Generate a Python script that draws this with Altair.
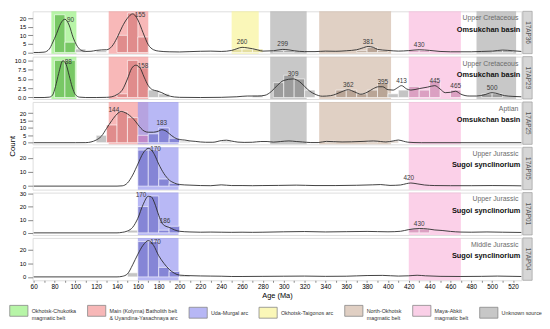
import altair as alt
import pandas as pd

# ---------------- data ----------------
SAMPLES = ["17AP36", "17AP29", "17AP25", "17AP05", "17AP01", "17AP04"]
PERIODS = ["Upper Cretaceous", "Upper Cretaceous", "Aptian", "Upper Jurassic", "Upper Jurassic", "Middle Jurassic"]
BASINS = ["Omsukchan basin", "Omsukchan basin", "Omsukchan basin", "Sugoi synclinorium", "Sugoi synclinorium", "Sugoi synclinorium"]

SOURCES = [
    "Okhotsk-Chukotka|magmatic belt",
    "Main (Kolyma) Batholith belt|& Uyandina-Yasachnaya arc",
    "Uda-Murgal arc",
    "Okhotsk-Taigonos arc",
    "North-Okhotsk|magmatic belt",
    "Maya-Abkit|magmatic belt",
    "Unknown source",
]
SOURCE_COLORS = ["#9af183", "#f59a9a", "#9a9af1", "#f8f49b", "#d3bcab", "#f9bcde", "#b0b0b0"]

BAND_KEYS = ["G", "R", "B", "Y", "N", "M", "U1", "U2"]
BAND_SOURCE = [0, 1, 2, 3, 4, 5, 6, 6]
BAND_START = [77, 132, 160, 250, 334, 420, 287, 485]
BAND_END = [101, 170, 199, 276, 403, 470, 322, 523]

PANEL_BANDS = [
    ["G", "R", "Y", "U1", "N", "M", "U2"],
    ["G", "R", "U1", "N", "M", "U2"],
    ["R", "B", "U1", "N", "M"],
    ["B", "M"],
    ["B", "M"],
    ["B", "M"],
]

BAR_CATS = ["G", "R", "B", "mix", "Y", "N", "M", "U", "none"]
BAR_COLORS = ["#78c865", "#e08c8c", "#8585d6", "#c088c8", "#e4dea0", "#b9a596", "#dba0c2", "#9c9c9c", "#c4c4c4"]

BAR_STARTS = [
    [80, 90, 100, 120, 140, 150, 160, 250, 260, 270, 290, 300, 370, 380, 390, 420, 430, 500, 510],
    [80, 90, 140, 150, 160, 170, 180, 270, 290, 300, 310, 320, 350, 360, 370, 380, 390, 400, 410, 420, 430, 440, 460, 490, 500],
    [120, 130, 140, 150, 160, 170, 180, 190, 200, 240, 340, 380, 400],
    [160, 170, 180, 190],
    [150, 160, 170, 180, 190, 420, 430],
    [150, 160, 170, 180, 190, 200],
]
BAR_COUNTS = [
    [22, 6, 2, 1, 10, 23, 9, 2, 2, 2, 1, 1, 1, 3, 1, 1, 1, 1, 1],
    [10, 10, 1, 10, 8, 2, 1, 0.6, 4, 6, 5, 2, 2, 2, 1, 2, 4, 1, 2, 3, 2, 4.5, 2, 1, 1],
    [5, 12, 21, 17, 5, 6, 10, 3, 1, 1, 1, 1, 1],
    [25.5, 25.5, 5, 2],
    [2, 20, 28, 2, 5, 3, 3],
    [3, 26, 26, 7, 4, 1],
]
BAR_SOURCES = [
    ["G", "G", "none", "none", "R", "R", "R", "Y", "Y", "Y", "U", "U", "N", "N", "N", "M", "M", "U", "U"],
    ["G", "G", "R", "R", "R", "none", "none", "none", "U", "U", "U", "none", "N", "N", "N", "N", "N", "none", "none", "M", "M", "M", "M", "U", "U"],
    ["none", "R", "R", "R", "mix", "B", "B", "B", "none", "none", "N", "N", "N"],
    ["B", "B", "B", "B"],
    ["none", "B", "B", "B", "B", "M", "M"],
    ["none", "B", "B", "B", "B", "none"],
]

CURVE_AGES = [
    [60, 65, 70, 75, 78, 82, 86, 90, 94, 98, 101, 105, 110, 115, 120, 125, 130, 135, 140, 145, 150, 155, 160, 165, 170, 175, 180, 190, 200, 210, 220, 230, 240, 250, 255, 260, 265, 270, 275, 280, 290, 299, 305, 310, 320, 330, 340, 350, 360, 370, 375, 381, 386, 390, 400, 410, 420, 430, 440, 450, 460, 470, 480, 490, 500, 510, 520, 528],
    [60, 70, 75, 78, 81, 84, 88, 91, 94, 97, 100, 104, 110, 120, 130, 135, 140, 145, 150, 154, 158, 162, 166, 170, 174, 178, 183, 188, 195, 200, 220, 240, 255, 265, 275, 282, 288, 294, 300, 309, 315, 320, 325, 330, 337, 345, 350, 356, 362, 368, 374, 380, 386, 391, 395, 400, 405, 409, 413, 418, 422, 430, 438, 445, 450, 455, 460, 465, 470, 478, 485, 492, 500, 507, 512, 520, 528],
    [60, 100, 110, 115, 120, 125, 130, 135, 140, 144, 148, 152, 156, 160, 163, 166, 170, 175, 180, 183, 187, 190, 195, 200, 205, 210, 215, 220, 225, 232, 240, 245, 250, 256, 262, 270, 278, 284, 290, 297, 305, 312, 318, 326, 333, 341, 348, 356, 365, 377, 386, 393, 398, 405, 410, 415, 419, 425, 432, 528],
    [60, 140, 145, 150, 155, 160, 165, 170, 173, 176, 180, 185, 190, 195, 200, 210, 220, 230, 240, 250, 260, 270, 280, 295, 312, 330, 350, 370, 385, 393, 402, 412, 418, 422, 428, 435, 445, 460, 480, 500, 520, 528],
    [60, 140, 145, 150, 155, 160, 165, 170, 173, 176, 180, 183, 186, 190, 195, 200, 210, 220, 230, 240, 250, 260, 270, 280, 300, 320, 340, 360, 380, 400, 412, 420, 430, 438, 445, 452, 460, 470, 480, 495, 510, 528],
    [60, 140, 145, 150, 155, 160, 165, 170, 175, 180, 185, 190, 195, 200, 210, 220, 230, 240, 250, 260, 280, 300, 320, 340, 360, 380, 395, 410, 420, 428, 436, 450, 470, 490, 505, 520, 528],
]
CURVE_VALUES = [
    [0, 0, 0.2, 2, 5.5, 11, 17, 19.4, 16, 8.5, 4.5, 1.5, 0.6, 0.7, 1.2, 1.5, 1.6, 3.5, 8.5, 15, 20, 22.5, 19, 11.5, 4.5, 1.6, 0.8, 0.4, 0.3, 0.5, 0.7, 0.8, 0.6, 1.2, 2.2, 3, 2.7, 2.2, 1.5, 0.8, 1, 1.8, 1.5, 1, 0.5, 0.5, 0.8, 0.7, 1, 1.6, 2.5, 3.5, 3, 1.8, 1.2, 0.8, 1.1, 1.6, 1.2, 0.6, 0.4, 0.4, 0.4, 0.6, 0.8, 1.4, 1, 0.6],
    [0, 0, 0.1, 0.6, 3, 6.5, 9.9, 9, 6, 2.8, 0.8, 0.1, 0, 0, 0.05, 0.2, 0.8, 2, 5, 7.8, 8.7, 8, 5.5, 3.2, 2.1, 1.8, 1.3, 0.6, 0.15, 0.05, 0, 0.05, 0.2, 0.4, 0.4, 0.6, 1.6, 3.3, 4.6, 5, 4.3, 3, 1.7, 0.9, 0.35, 0.5, 0.9, 1.6, 2.1, 1.5, 0.9, 1.4, 2.4, 2.9, 2.9, 2.1, 2, 2.6, 3.2, 2.3, 2, 2.4, 2.8, 3.2, 2.3, 1.3, 1.4, 1.7, 0.9, 0.4, 0.4, 0.7, 1.3, 0.9, 0.5, 0.3, 0.2],
    [0, 0, 0.05, 0.5, 1.8, 4.4, 9.7, 15, 19.4, 21.2, 20.3, 18.5, 15.9, 12.3, 9.7, 7.9, 7.1, 7.1, 7.9, 8.8, 7.9, 6.2, 3.5, 2.1, 1.8, 1.2, 0.9, 0.5, 0.3, 0.3, 1.4, 1.7, 1.1, 0.4, 0.2, 0.3, 0.8, 0.8, 0.4, 0.8, 1.2, 0.8, 0.5, 0.1, 0.1, 0.9, 0.7, 0.5, 0.6, 0.9, 1.2, 0.8, 0.5, 1.2, 1.8, 1.0, 0.35, 0.1, 0, 0],
    [0, 0, 0.2, 2.2, 7.8, 15.6, 23.3, 26.7, 25.6, 22.2, 15.6, 8.9, 4.4, 2.2, 1.1, 0.7, 0.4, 0.3, 0.9, 0.4, 0.4, 0.3, 0.4, 0.5, 0.7, 0.4, 0.4, 0.6, 0.9, 1.1, 0.5, 0.8, 1.8, 2.2, 1.6, 0.8, 0.4, 0.3, 0.3, 0.4, 0.3, 0.2],
    [0, 0, 0.4, 1.4, 4.2, 11.1, 21.5, 27.8, 27.3, 22.7, 13.4, 7.6, 5.3, 4.2, 2.3, 1.2, 0.7, 0.5, 0.6, 0.5, 0.4, 0.5, 0.4, 0.5, 0.8, 1, 0.7, 0.9, 1.1, 0.8, 1.2, 2.5, 3.3, 3, 2.2, 1.8, 1.1, 0.6, 0.5, 0.7, 0.5, 0.3],
    [0, 0, 0.4, 2.2, 8.9, 16.7, 23.3, 26.7, 23.3, 15.6, 10, 5.6, 2.7, 1.3, 0.9, 0.7, 0.6, 0.5, 0.3, 0.3, 0.4, 0.5, 0.6, 0.4, 0.5, 1, 1.1, 0.6, 0.8, 1.2, 0.8, 0.4, 0.3, 0.4, 0.6, 0.4, 0.3],
]

PEAK_AGES = [
    [90, 155, 260, 299, 381, 430],
    [88, 158, 309, 362, 395, 413, 445, 465, 500],
    [144, 183],
    [170, 420],
    [170, 186, 430],
    [170],
]
PEAK_Y = [
    [19.4, 22.5, 3, 1.8, 3.5, 1.6],
    [9.9, 8.7, 5, 2.1, 2.9, 3.2, 3.2, 1.7, 1.3],
    [21.2, 10],
    [26.7, 2.2],
    [27.8, 5.3, 3.3],
    [26.7],
]
PEAK_SIDE = [
    ["r", "r", "c", "c", "c", "c"],
    ["r", "r", "c", "c", "c", "c", "c", "c", "c"],
    ["l", "c"],
    ["r", "c"],
    ["l", "c", "c"],
    ["r"],
]

Y_DOMAINS = [[-0.7, 24], [-0.4, 11.0], [-1.1, 27.6], [-2.5, 27.5], [-1.6, 30.6], [-2.5, 28.7]]
Y_TICKS = [[0, 5, 10, 15, 20], [0, 2.5, 5, 7.5, 10], [0, 5, 10, 15, 20], [0, 10, 20], [0, 10, 20, 30], [0, 10, 20]]
Y_FORMATS = ["d", ".1f", "d", "d", "d", "d"]
X_TICKS = list(range(60, 521, 10))

# ---------------- layout / style ----------------
W, H = 496, 43
FONT = "Liberation Sans"
LEGEND_PATH = "M-1,-0.6L1,-0.6L1,0.6L-1,0.6Z"

legend = alt.Legend(
    title=None, orient="none", legendX=-24, legendY=6 * H + 5 * 3 + 21,
    direction="horizontal", columns=7, symbolType=LEGEND_PATH, symbolSize=340,
    symbolStrokeColor="#555555", symbolStrokeWidth=0.8, symbolOpacity=0.7,
    labelExpr="split(datum.label, '|')", labelFontSize=5.5, labelColor="#333333",
    labelFont=FONT, labelLimit=200, columnPadding=9, labelOffset=3, padding=0,
)
color_scale = alt.Scale(domain=SOURCES, range=SOURCE_COLORS)
fill_scale = alt.Scale(domain=BAR_CATS, range=BAR_COLORS)
x_scale = alt.Scale(domain=[59, 528], nice=False, zero=False)


def panel(i):
    last = i == 5
    x_axis = alt.Axis(values=X_TICKS, labelExpr="datum.value % 20 == 0 ? datum.label : ''",
                      labelOverlap=False, labelFlush=False, title="Age (Ma)", grid=False,
                      domain=False, tickSize=2, labelPadding=1, labelFontSize=6.5,
                      titleFontSize=7.5, titlePadding=2, titleFontWeight="normal") if last else None
    if i == 2:
        y_axis = alt.Axis(values=Y_TICKS[i], format=Y_FORMATS[i], title="Count", titleX=-16,
                          titleY=H + 1.5, titleBaseline="bottom", titleFontSize=8,
                          titleFontWeight="normal", grid=False, domain=False, labelFontSize=6)
    else:
        y_axis = alt.Axis(values=Y_TICKS[i], format=Y_FORMATS[i], title=None, grid=False,
                          domain=False, labelFontSize=6)
    y_scale = alt.Scale(domain=Y_DOMAINS[i], nice=False, zero=False)

    bands = pd.DataFrame({"key": PANEL_BANDS[i]})
    idx = [BAND_KEYS.index(k) for k in PANEL_BANDS[i]]
    bands["source"] = [SOURCES[BAND_SOURCE[j]] for j in idx]
    bands["start"] = [BAND_START[j] for j in idx]
    bands["end"] = [BAND_END[j] for j in idx]

    bars = pd.DataFrame({"start": BAR_STARTS[i], "count": BAR_COUNTS[i], "src": BAR_SOURCES[i]})
    curve = pd.DataFrame({"age": CURVE_AGES[i], "value": CURVE_VALUES[i]})
    peaks = pd.DataFrame({"age": PEAK_AGES[i], "y": PEAK_Y[i], "side": PEAK_SIDE[i]})
    peaks["label"] = peaks["age"].astype(str)
    info = pd.DataFrame({"period": [PERIODS[i]], "basin": [BASINS[i]], "sample": [SAMPLES[i]]})

    band_layer = alt.Chart(bands).mark_rect(opacity=0.7).encode(
        x=alt.X("start:Q", scale=x_scale, axis=x_axis),
        x2="end:Q",
        y=alt.value(0), y2=alt.value(H),
        color=alt.Color("source:N", scale=color_scale, legend=legend),
    )
    bar_layer = alt.Chart(bars).transform_calculate(end="datum.start + 10").mark_rect(
        stroke="white", strokeWidth=0.6
    ).encode(
        x=alt.X("start:Q", scale=x_scale, axis=x_axis),
        x2="end:Q",
        y=alt.Y("count:Q", scale=y_scale, axis=y_axis),
        y2=alt.datum(0),
        fill=alt.Fill("src:N", scale=fill_scale, legend=None),
    )
    line_layer = alt.Chart(curve).mark_line(
        interpolate="monotone", color="#2b2b2b", strokeWidth=0.9
    ).encode(
        x=alt.X("age:Q", scale=x_scale, axis=x_axis),
        y=alt.Y("value:Q", scale=y_scale, axis=y_axis),
    )

    def peak_text(side, **kw):
        return alt.Chart(peaks).transform_filter(f"datum.side == '{side}'").mark_text(
            fontSize=6.5, color="#3a3a3a", font=FONT, **kw
        ).encode(
            x=alt.X("age:Q", scale=x_scale, axis=x_axis),
            y=alt.Y("y:Q", scale=y_scale, axis=y_axis),
            text="label:N",
        )

    t_r = peak_text("r", align="left", baseline="middle", dx=2, dy=1)
    t_l = peak_text("l", align="right", baseline="middle", dx=-2, dy=-1)
    t_c = peak_text("c", align="center", baseline="bottom", dy=-2)

    period_t = alt.Chart(info).mark_text(align="right", baseline="middle", fontSize=7,
                                         color="#6a6a6a", font=FONT).encode(
        x=alt.value(W - 3), y=alt.value(7), text="period:N")
    basin_t = alt.Chart(info).mark_text(align="right", baseline="middle", fontSize=7.5,
                                        fontWeight="bold", color="#111111", font=FONT).encode(
        x=alt.value(W - 1), y=alt.value(18.5), text="basin:N")
    strip = alt.Chart(info).mark_rect(fill="#d6d6d6", stroke="#9a9a9a", strokeWidth=0.7).encode(
        x=alt.value(W + 1.5), x2=alt.value(W + 11), y=alt.value(0), y2=alt.value(H))
    strip_t = alt.Chart(info).mark_text(angle=90, align="center", baseline="middle", fontSize=6.5,
                                        color="#555555", font=FONT).encode(
        x=alt.value(W + 6.3), y=alt.value(H / 2), text="sample:N")

    return alt.layer(band_layer, bar_layer, line_layer, t_r, t_l, t_c,
                     period_t, basin_t, strip, strip_t).properties(width=W, height=H)


chart = alt.vconcat(*[panel(i) for i in range(6)], spacing=3, bounds="flush").resolve_scale(
    x="independent", y="independent", color="shared", fill="shared"
).configure_view(stroke="#8c8c8c", strokeWidth=0.9).configure_axis(
    labelFont=FONT, titleFont=FONT, labelFontSize=6.5, labelColor="#4d4d4d",
    tickColor="#4d4d4d", tickSize=2, labelPadding=1, titleColor="#222222"
).configure(padding=0)

chart.save("out.html", embed_options={"renderer": "svg", "actions": False})
